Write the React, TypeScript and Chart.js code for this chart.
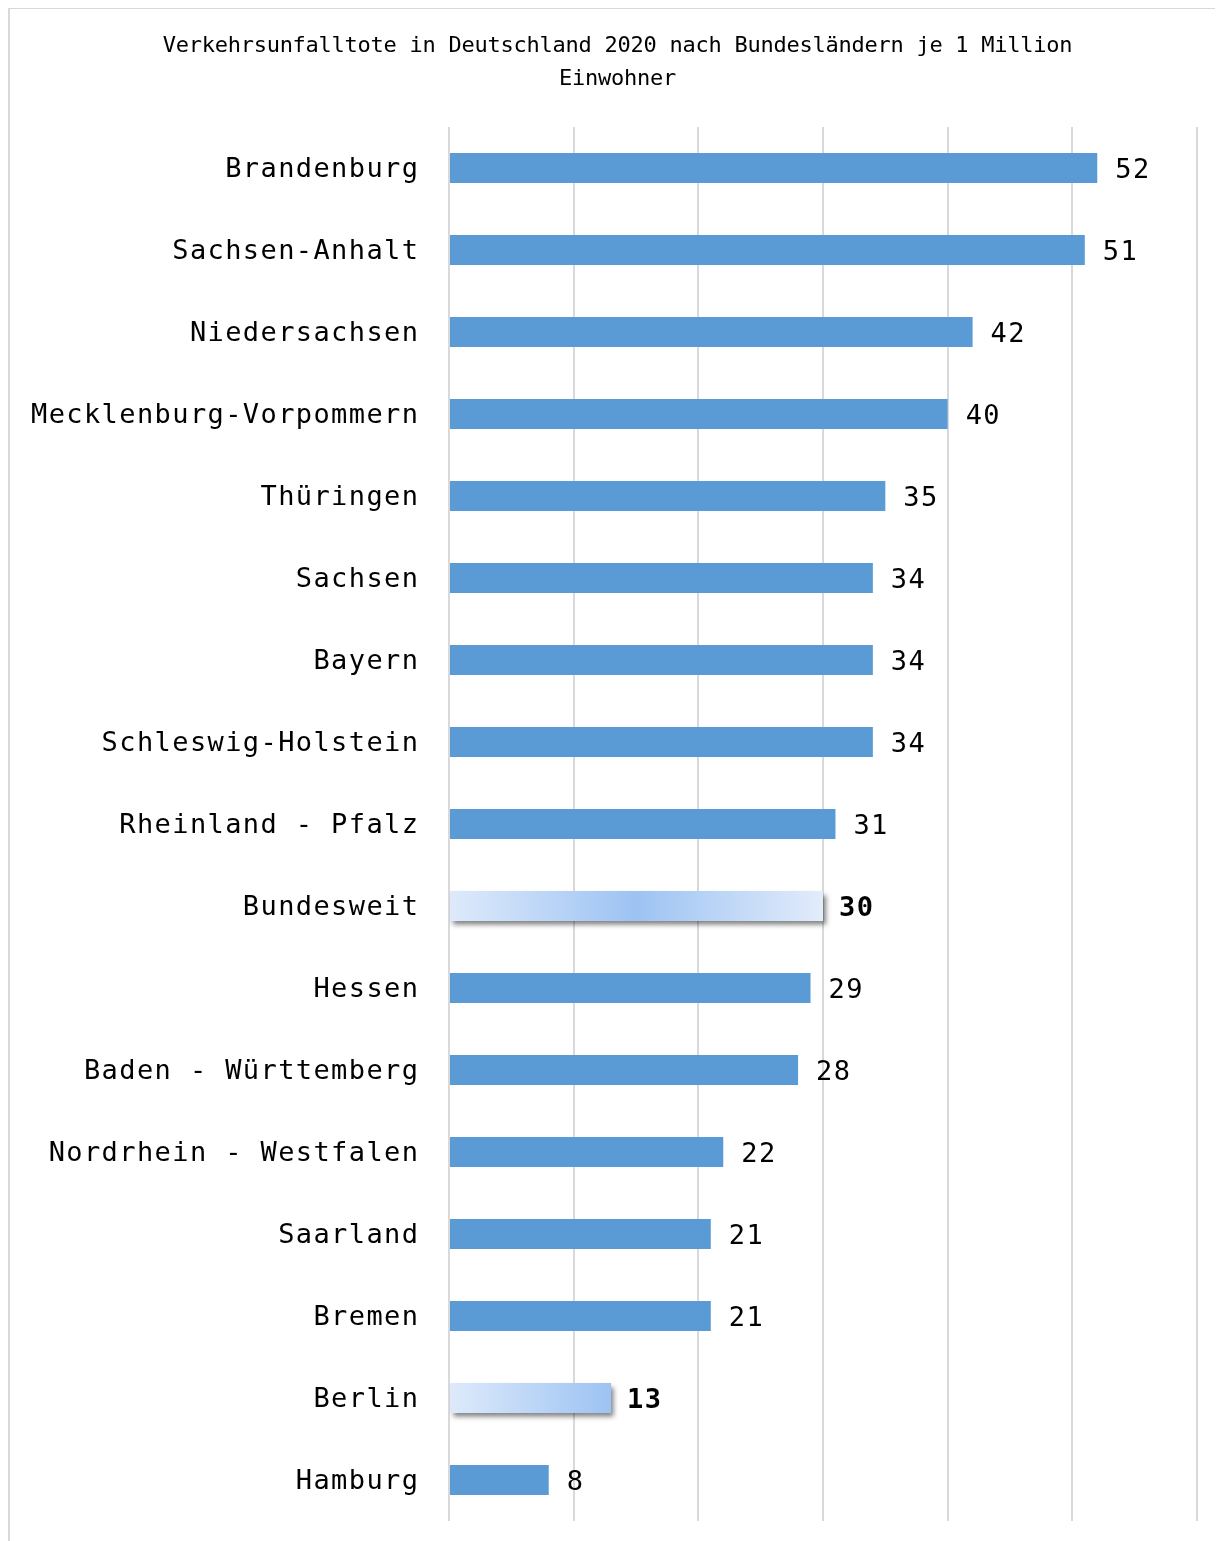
import React, { useEffect, useRef } from "react";
import { Chart, registerables } from "chart.js";

Chart.register(...registerables);

const titleLines = [
  "Verkehrsunfalltote in Deutschland 2020 nach Bundesländern je 1 Million",
  "Einwohner",
];

const categories = [
  "Brandenburg",
  "Sachsen-Anhalt",
  "Niedersachsen",
  "Mecklenburg-Vorpommern",
  "Thüringen",
  "Sachsen",
  "Bayern",
  "Schleswig-Holstein",
  "Rheinland - Pfalz",
  "Bundesweit",
  "Hessen",
  "Baden - Württemberg",
  "Nordrhein - Westfalen",
  "Saarland",
  "Bremen",
  "Berlin",
  "Hamburg",
];

const values = [52, 51, 42, 40, 35, 34, 34, 34, 31, 30, 29, 28, 22, 21, 21, 13, 8];

// highlighted categories and their gradient type
const highlighted = ["Bundesweit", "Berlin"];
const highlightGradient = ["center", "end"];

const xMin = 0;
const xMax = 60;
const xStep = 10;

const BAR_COLOR = "#5b9bd5";
const GRID_COLOR = "#d9d9d9";
const LABEL_FONT = '"DejaVu Sans Mono"';

export default function App() {
  const canvasRef = useRef<HTMLCanvasElement | null>(null);

  useEffect(() => {
    const canvas = canvasRef.current;
    if (!canvas) return;

    const normalData = values.map((v, i) => (highlighted.includes(categories[i]) ? null : v));
    const specialData = values.map((v, i) => (highlighted.includes(categories[i]) ? v : null));

    const gradientFill = (ctx: any) => {
      const chart = ctx.chart;
      const v = ctx.raw;
      if (!chart.chartArea || v == null) return "#9dc3f3";
      const xs = chart.scales.x;
      const x0 = xs.getPixelForValue(0);
      const x1 = xs.getPixelForValue(v);
      const g = chart.ctx.createLinearGradient(x0, 0, x1, 0);
      const hIdx = highlighted.indexOf(categories[ctx.dataIndex]);
      const kind = highlightGradient[hIdx];
      if (kind === "center") {
        g.addColorStop(0, "#deeafb");
        g.addColorStop(0.5, "#9dc3f3");
        g.addColorStop(1, "#e2ecfb");
      } else {
        g.addColorStop(0, "#deeafb");
        g.addColorStop(1, "#9dc3f3");
      }
      return g;
    };

    const decorPlugin = {
      id: "decor",
      beforeDraw(chart: any) {
        const ctx = chart.ctx;
        ctx.save();
        ctx.strokeStyle = GRID_COLOR;
        ctx.lineWidth = 2;
        ctx.beginPath();
        ctx.moveTo(1, chart.height);
        ctx.lineTo(1, 0);
        ctx.lineTo(chart.width, 0);
        ctx.stroke();
        ctx.restore();
      },
      beforeDatasetDraw(chart: any, args: any) {
        if (args.index === 1) {
          const ctx = chart.ctx;
          ctx.save();
          ctx.shadowColor = "rgba(0,0,0,0.5)";
          ctx.shadowBlur = 5;
          ctx.shadowOffsetX = 3;
          ctx.shadowOffsetY = 4;
        }
      },
      afterDatasetDraw(chart: any, args: any) {
        if (args.index === 1) {
          chart.ctx.restore();
        }
      },
      afterDatasetsDraw(chart: any) {
        const ctx = chart.ctx;
        const ys = chart.scales.y;
        const xs = chart.scales.x;
        const area = chart.chartArea;
        ctx.save();
        ctx.fillStyle = "#000";
        ctx.textBaseline = "middle";

        // title
        ctx.font = `22px ${LABEL_FONT}`;
        (ctx as any).letterSpacing = "-0.25px";
        ctx.textAlign = "center";
        titleLines.forEach((line, i) => {
          ctx.fillText(line, 609.5, 38 + i * 33);
        });

        // category labels and value labels
        const sp = 1.4;
        (ctx as any).letterSpacing = `${sp}px`;
        categories.forEach((c, i) => {
          const py = ys.getPixelForValue(i);
          ctx.font = `27px ${LABEL_FONT}`;
          ctx.textAlign = "right";
          ctx.fillText(c, area.left - 31 + sp, py + 1.5);
          const hl = highlighted.includes(c);
          ctx.font = `${hl ? "bold " : ""}27px ${LABEL_FONT}`;
          ctx.textAlign = "left";
          ctx.fillText(String(values[i]), xs.getPixelForValue(values[i]) + (hl ? 16 : 18), py + 2.5);
        });
        ctx.restore();
      },
    };

    const chart = new Chart(canvas, {
      type: "bar",
      data: {
        labels: categories,
        datasets: [
          {
            data: normalData,
            backgroundColor: BAR_COLOR,
            borderWidth: 0,
            barPercentage: 0.366,
            categoryPercentage: 1,
            grouped: false,
          },
          {
            data: specialData,
            backgroundColor: gradientFill,
            borderWidth: 0,
            barPercentage: 0.366,
            categoryPercentage: 1,
            grouped: false,
          },
        ],
      },
      options: {
        indexAxis: "y",
        animation: false,
        responsive: true,
        maintainAspectRatio: false,
        layout: { padding: { left: 441, right: 18, top: 119, bottom: 20 } },
        plugins: {
          legend: { display: false },
          title: { display: false },
          tooltip: { enabled: false },
        },
        scales: {
          x: {
            min: xMin,
            max: xMax,
            ticks: { display: false, stepSize: xStep },
            grid: { color: GRID_COLOR, lineWidth: 2, drawTicks: false },
            border: { display: false },
            afterFit: (s: any) => {
              s.height = 0;
            },
          },
          y: {
            ticks: { display: false },
            grid: { display: false, drawTicks: false },
            border: { display: false },
            afterFit: (s: any) => {
              s.width = 0;
            },
          },
        },
      },
      plugins: [decorPlugin],
    });

    return () => chart.destroy();
  }, []);

  return (
    <div style={{ width: 1207, height: 1533, position: "relative" }}>
      <canvas ref={canvasRef} />
    </div>
  );
}
